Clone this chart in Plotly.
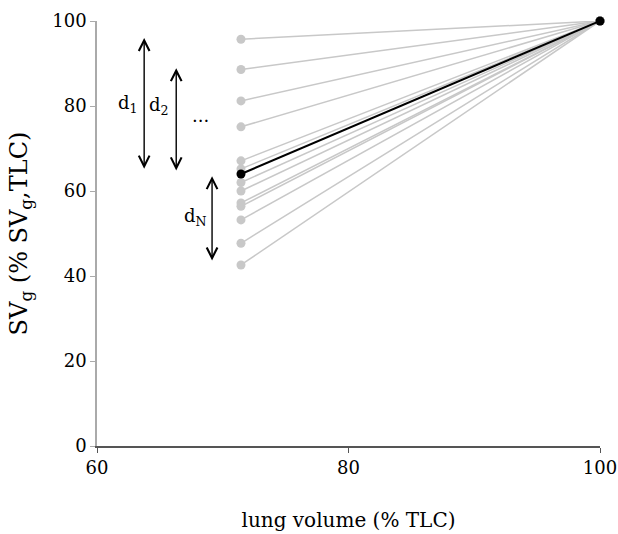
import plotly.graph_objects as go

x_low = 71.45
x_high = 100
grey_start = [95.7, 88.6, 81.2, 75.1, 67.1, 65.2, 62.0, 60.0, 57.2, 56.4, 53.2, 47.7, 42.6]
black_start = 64.0
end_value = 100

x_ticks = [60, 80, 100]
y_ticks = [0, 20, 40, 60, 80, 100]

# arrows: (x, y_top, y_bottom)
arrows = [(63.75, 96.0, 64.9), (66.3, 88.9, 64.5), (69.15, 63.5, 43.3)]
labels = [("d<sub>1</sub>", 62.5, 80.5), ("d<sub>2</sub>", 64.9, 80.0), ("...", 68.2, 77.8), ("d<sub>N</sub>", 67.8, 54.0)]

FONT = "DejaVu Serif"
fig = go.Figure()
for y0 in grey_start:
    fig.add_trace(go.Scatter(x=[x_low, x_high], y=[y0, end_value], mode="lines+markers",
                             line=dict(color="#c8c8c8", width=1.5),
                             marker=dict(color="#c8c8c8", size=9), showlegend=False,
                             cliponaxis=False))
fig.add_trace(go.Scatter(x=[x_low, x_high], y=[black_start, end_value], mode="lines+markers",
                         line=dict(color="black", width=2),
                         marker=dict(color="black", size=9), showlegend=False,
                         cliponaxis=False))

for (ax_, yt, yb) in arrows:
    fig.add_annotation(x=ax_, y=yt, ax=ax_, ay=yb, xref="x", yref="y", axref="x", ayref="y",
                       showarrow=True, arrowhead=5, startarrowhead=5, arrowside="end+start",
                       arrowsize=1.5, startarrowsize=1.5, arrowwidth=1.4, arrowcolor="black", text="")
for (t, lx, ly) in labels:
    fig.add_annotation(x=lx, y=ly, xref="x", yref="y", text=t, showarrow=False,
                       font=dict(family=FONT, size=18, color="black"))

fig.update_layout(
    width=618, height=534, margin=dict(l=97, r=18, t=21, b=88),
    paper_bgcolor="white", plot_bgcolor="white",
    font=dict(family=FONT, size=18, color="black"),
    xaxis=dict(range=[60, 100], tickvals=x_ticks, ticks="outside", ticklen=5,
               tickcolor="#555555", showline=True, linecolor="#555555", linewidth=1.5,
               showgrid=False, zeroline=False, automargin=False,
               title=dict(text="lung volume (% TLC)", standoff=36, font=dict(size=20))),
    yaxis=dict(range=[0, 100], tickvals=y_ticks, ticks="outside", ticklen=5,
               tickcolor="#aaaaaa", showline=True, linecolor="#aaaaaa", linewidth=1.5,
               showgrid=False, zeroline=False, automargin=False,
               title=dict(text="SV<sub>g</sub> (% SV<sub>g</sub>,TLC)", standoff=18, font=dict(size=24))),
)
fig.write_html("out.html")
